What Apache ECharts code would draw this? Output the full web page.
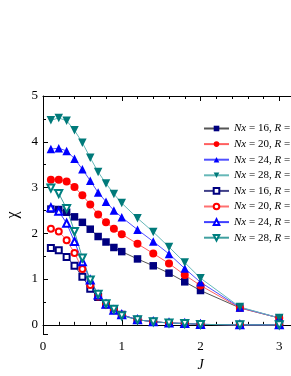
<!DOCTYPE html>
<html><head><meta charset="utf-8">
<script src="https://cdn.jsdelivr.net/npm/echarts@6/dist/echarts.min.js"></script>
<style>html,body{margin:0;padding:0;background:#fff}#c{width:291px;height:376px}</style>
</head><body><div id="c"></div>
<script>
const J = [0.1,0.2,0.3,0.4,0.5,0.6,0.7,0.8,0.9,1.0,1.2,1.4,1.6,1.8,2.0,2.5,3.0];
const filled16 = [2.53,2.52,2.46,2.36,2.24,2.09,1.93,1.81,1.69,1.60,1.44,1.29,1.13,0.94,0.75,0.37,0.15];
const filled20 = [3.17,3.17,3.13,3.01,2.83,2.63,2.41,2.24,2.10,1.98,1.77,1.56,1.34,1.09,0.86,0.37,0.15];
const filled24 = [3.84,3.86,3.80,3.63,3.40,3.15,2.89,2.69,2.50,2.35,2.08,1.82,1.55,1.23,0.93,0.38,0.15];
const filled28 = [4.47,4.52,4.46,4.25,3.98,3.65,3.34,3.09,2.86,2.66,2.33,2.03,1.70,1.36,1.02,0.39,0.15];
const open16 = [1.68,1.63,1.48,1.29,1.05,0.79,0.61,0.45,0.33,0.22,0.11,0.07,0.04,0.03,0.01,0.0,0.0];
const open20 = [2.10,2.04,1.85,1.57,1.22,0.87,0.62,0.44,0.32,0.22,0.11,0.07,0.04,0.03,0.01,0.0,0.0];
const open24 = [2.56,2.48,2.22,1.82,1.38,0.98,0.65,0.45,0.32,0.22,0.11,0.07,0.04,0.03,0.01,0.0,0.0];
const open28 = [2.99,2.87,2.54,2.04,1.46,0.98,0.67,0.46,0.34,0.20,0.11,0.07,0.04,0.03,0.01,0.0,0.0];
const names = ['Nx = 16, R = a','Nx = 20, R = a','Nx = 24, R = a','Nx = 28, R = a','Nx = 16, R = b','Nx = 20, R = b','Nx = 24, R = b','Nx = 28, R = b'];

const F = 'Liberation Serif, Times New Roman, serif';
function pts(arr){ return J.map((x,i)=>[x,arr[i]]); }
function mk(name, arr, sym, size, color, lineColor, lw, rot){
  return {type:'line', name:name, data:pts(arr), symbol:sym, symbolSize:size, symbolRotate:rot||0,
    showSymbol:true, animation:false,
    itemStyle:{color:color, borderColor:color, borderWidth: sym.indexOf('empty')===0?1.3:0},
    lineStyle:{color:lineColor, width:lw}};
}
const series = [
  mk(names[0], filled16, 'rect', 7.5, '#000080', '#555555', 1),
  mk(names[1], filled20, 'circle', 8, '#ff0000', '#ff6060', 1),
  mk(names[2], filled24, 'triangle', 8.5, '#0000ff', '#5050ff', 1),
  mk(names[3], filled28, 'triangle', 8.5, '#007a7a', '#66b8b8', 1, 180),
  mk(names[4], open16, 'emptyRect', 6, '#000080', '#404088', 1),
  mk(names[5], open20, 'emptyCircle', 6, '#ff0000', '#ff7070', 1),
  mk(names[6], open24, 'emptyTriangle', 7, '#0000ff', '#4040ff', 1),
  mk(names[7], open28, 'emptyTriangle', 7, '#008080', '#40a0a0', 1, 180)
];
const chart = echarts.init(document.getElementById('c'), null, {renderer:'canvas'});
chart.setOption({
  backgroundColor:'#fff',
  animation:false,
  grid: {left:43, top:96, right:-67, bottom:42, containLabel:false, outerBoundsMode:'none'},
  legend: {
    orient:'vertical', left:203, top:123, padding:0, itemGap:4.6, itemWidth:25, itemHeight:7,
    data: names,
    formatter: function(n){ var p=n.split(', '); return '{i|Nx} = '+p[0].slice(5)+', {i|R} = '+p[1].slice(4); },
    textStyle:{fontFamily:F, fontSize:11, color:'#000',
      rich:{i:{fontFamily:F, fontSize:11, fontStyle:'italic', color:'#000'}}}
  },
  xAxis: [
    {type:'value', min:0, max:4, interval:1, position:'bottom',
     name:'J', nameLocation:'middle', nameGap:24,
     nameTextStyle:{fontFamily:F, fontSize:14, fontStyle:'italic', color:'#000'},
     axisLine:{lineStyle:{color:'#000', width:1}},
     axisTick:{inside:true, length:5, lineStyle:{color:'#000'}},
     minorTick:{show:true, splitNumber:5, length:3, lineStyle:{color:'#000'}},
     axisLabel:{fontFamily:F, fontSize:13, color:'#000', margin:6},
     splitLine:{show:false}},
    {type:'value', min:0, max:4, interval:1, position:'top',
     axisLine:{lineStyle:{color:'#000', width:1}},
     axisTick:{inside:true, length:5, lineStyle:{color:'#000'}},
     minorTick:{show:true, splitNumber:5, length:3, lineStyle:{color:'#000'}},
     axisLabel:{show:false}, splitLine:{show:false}}
  ],
  yAxis: [
    {type:'value', min:-0.2, max:5, position:'left', splitNumber:5,
     name:'χ', nameLocation:'middle', nameGap:16, nameRotate:90,
     nameTextStyle:{fontFamily:F, fontSize:16, color:'#000'},
     axisLine:{lineStyle:{color:'#000', width:1}},
     axisTick:{inside:true, length:5, lineStyle:{color:'#000'}},
     minorTick:{show:true, splitNumber:2, length:3, lineStyle:{color:'#000'}},
     axisLabel:{fontFamily:F, fontSize:13, color:'#000', margin:5,
       formatter:function(v){ return (Math.abs(v-Math.round(v))<1e-6) ? String(Math.round(v)) : ''; }},
     splitLine:{show:false}}
  ],
  series: series
});
</script></body></html>
